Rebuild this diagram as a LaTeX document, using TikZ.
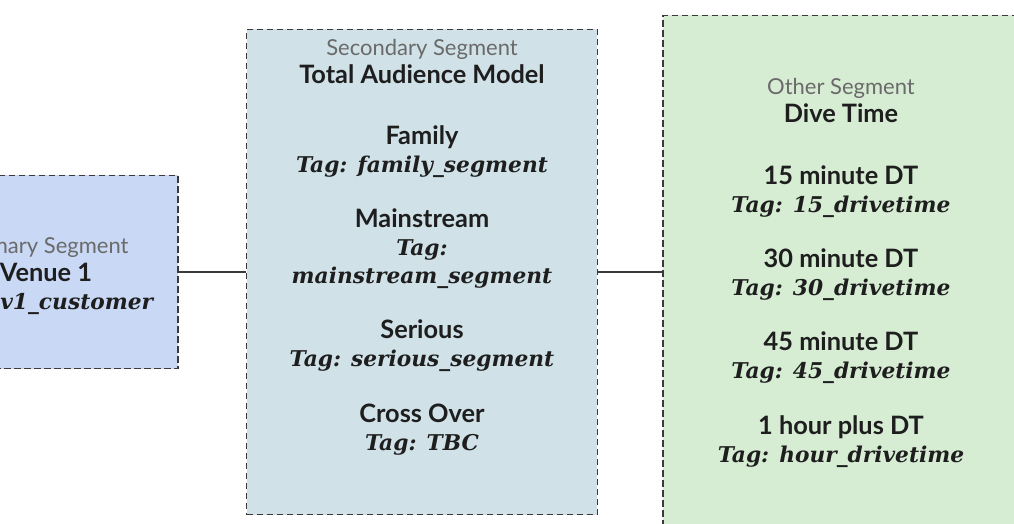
\documentclass[tikz,border=0pt]{standalone}
\usepackage{fontspec}
\setmainfont{Lato}
\newfontfamily\serifitfont{DejaVu Serif}
\usepackage{xcolor}
\usepackage{tikz}
\usetikzlibrary{positioning}
\definecolor{SegInk}{HTML}{1E1E1E}
\definecolor{SegGrey}{HTML}{6A6A6A}
\definecolor{SegLine}{HTML}{3A3A3A}
\definecolor{SegBlue}{HTML}{C9D8F5}
\definecolor{SegTeal}{HTML}{D0E2E8}
\definecolor{SegGreen}{HTML}{D6EDD4}
\newcommand{\segkind}[1]{{\mdseries\color{SegGrey}\fontsize{16.5}{21}\selectfont #1}}
\newcommand{\segtag}[1]{{\serifitfont\bfseries\itshape\fontsize{16.3}{21}\selectfont #1}}

\begin{document}
\begin{tikzpicture}[
  x=0.75pt, y=-0.75pt,
  font=\fontsize{19}{21}\selectfont\bfseries,
  seg/.style={rectangle, draw=SegLine, dash pattern=on 5pt off 2.5pt, line width=1.1pt,
              align=center, inner sep=0pt},
  segtext/.style={text=SegInk, align=center, inner sep=0pt},
  link/.style={draw=SegLine, line width=1.1pt},
]
\useasboundingbox (0,0) rectangle (1014,524);
\clip (0,0) rectangle (1014,524);
\node[seg, fill=SegBlue, minimum width=198pt, minimum height=145pt] (venue) at (46,272) {};
\node[segtext] (venuetext) at (46,276)
  {\segkind{Primary Segment}\\Venue 1\\\segtag{Tag: v1\_customer}};
\node[seg, fill=SegTeal, minimum width=263pt, minimum height=364pt] (tam) at (422,272) {};
\node[segtext, anchor=north] (tamtext) at (422,39)
  {\segkind{Secondary Segment}\\Total Audience Model\\[25pt]
   Family\\\segtag{Tag: family\_segment}\\[20pt]
   Mainstream\\\segtag{Tag:}\\\segtag{mainstream\_segment}\\[20pt]
   Serious\\\segtag{Tag: serious\_segment}\\[21pt]
   Cross Over\\\segtag{Tag: TBC}};
\node[seg, fill=SegGreen, minimum width=267pt, minimum height=385pt] (drive) at (841,272) {};
\node[segtext] (drivetext) at (841,273)
  {\segkind{Other Segment}\\Dive Time\\[25pt]
   15 minute DT\\\segtag{Tag: 15\_drivetime}\\[20.5pt]
   30 minute DT\\\segtag{Tag: 30\_drivetime}\\[20.5pt]
   45 minute DT\\\segtag{Tag: 45\_drivetime}\\[20.5pt]
   1 hour plus DT\\\segtag{Tag: hour\_drivetime}};
\draw[link] (venue) -- (tam);
\draw[link] (tam) -- (drive);
\end{tikzpicture}
\end{document}
